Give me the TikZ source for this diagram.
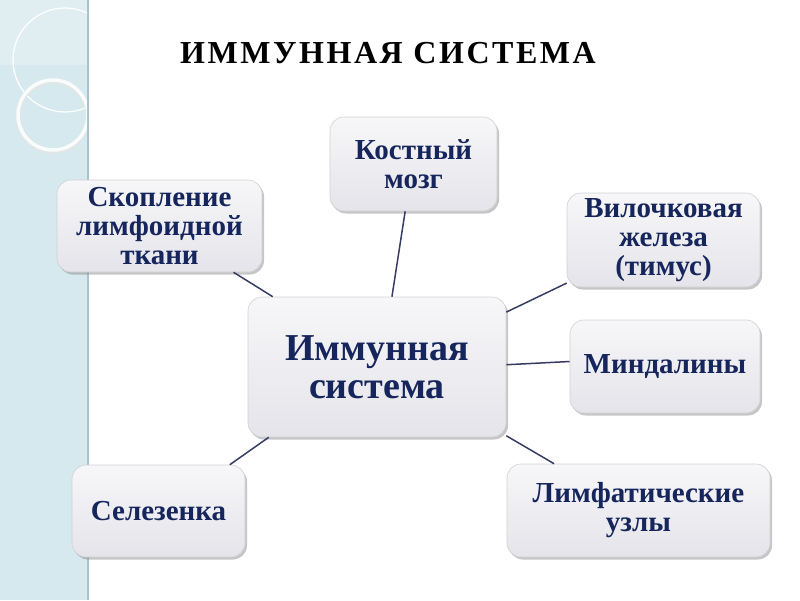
\documentclass[tikz,border=0pt]{standalone}
\usepackage{fontspec}
\setmainfont{Liberation Serif}
\usetikzlibrary{shadows}

\definecolor{navy}{RGB}{22,38,92}
\definecolor{stripe}{RGB}{214,233,238}
\definecolor{stripeedge}{RGB}{168,196,204}
\definecolor{boxtop}{RGB}{247,247,249}
\definecolor{boxbot}{RGB}{228,228,234}
\definecolor{linkcol}{RGB}{54,60,98}

\tikzset{
  organ/.style={rounded corners=14pt, draw=black!18, line width=0.6pt,
    top color=boxtop, bottom color=boxbot,
    drop shadow={shadow xshift=2pt, shadow yshift=-2.5pt, opacity=0.45},
    text=navy, align=center, inner sep=0pt,
    font=\bfseries\fontsize{29}{29}\selectfont},
  link/.style={draw=linkcol, line width=1.5pt}
}

\begin{document}
\begin{tikzpicture}[x=1pt,y=-1pt]
\useasboundingbox (0,0) rectangle (800,600);

% left stripe
\fill[stripe] (0,0) rectangle (88,600);
\fill[white,opacity=0.25] (0,0) rectangle (88,65);
\begin{scope}
\clip (0,0) rectangle (88,600);
\draw[white,line width=1.2pt] (65,60) circle (52pt);
\draw[black!10,line width=5pt] (53,116) circle (35pt);
\draw[white!85!stripe,line width=3.5pt] (53,115) circle (35pt);
\end{scope}
\draw[stripeedge,line width=1.5pt] (88,0) -- (88,600);

\node[font=\bfseries\fontsize{32}{34}\selectfont\addfontfeatures{LetterSpace=8}] (title) at (388,53) {ИММУННАЯ СИСТЕМА};

\node[organ, minimum width=258pt, minimum height=140pt,
  font=\bfseries\fontsize{38}{38}\selectfont] (imm) at (377,367) {Иммунная\\система};
\node[organ, minimum width=167pt, minimum height=94pt] (bone) at (413.5,164) {Костный\\мозг};
\node[organ, minimum width=205pt, minimum height=92pt] (cluster) at (159.5,226) {Скопление\\лимфоидной\\ткани};
\node[organ, minimum width=193pt, minimum height=94pt] (thymus) at (663.5,240) {Вилочковая\\железа\\(тимус)};
\node[organ, minimum width=190pt, minimum height=93pt] (tonsils) at (665,366.5) {Миндалины};
\node[organ, minimum width=173pt, minimum height=92pt] (spleen) at (158.5,511) {Селезенка};
\node[organ, minimum width=263pt, minimum height=93pt] (lymph) at (638.5,510.5) {Лимфатические\\узлы};

\draw[link] (cluster.-32.6) -- (imm.146.6);
\draw[link] (bone.260.9) -- (imm.78.7);
\draw[link] (thymus.204.2) -- (imm.23.8);
\draw[link] (imm.1.8) -- (tonsils.177.9);
\draw[link] (imm.-28.6) -- (lymph.151.2);
\draw[link] (imm.213.6) -- (spleen.33.3);
\end{tikzpicture}
\end{document}
